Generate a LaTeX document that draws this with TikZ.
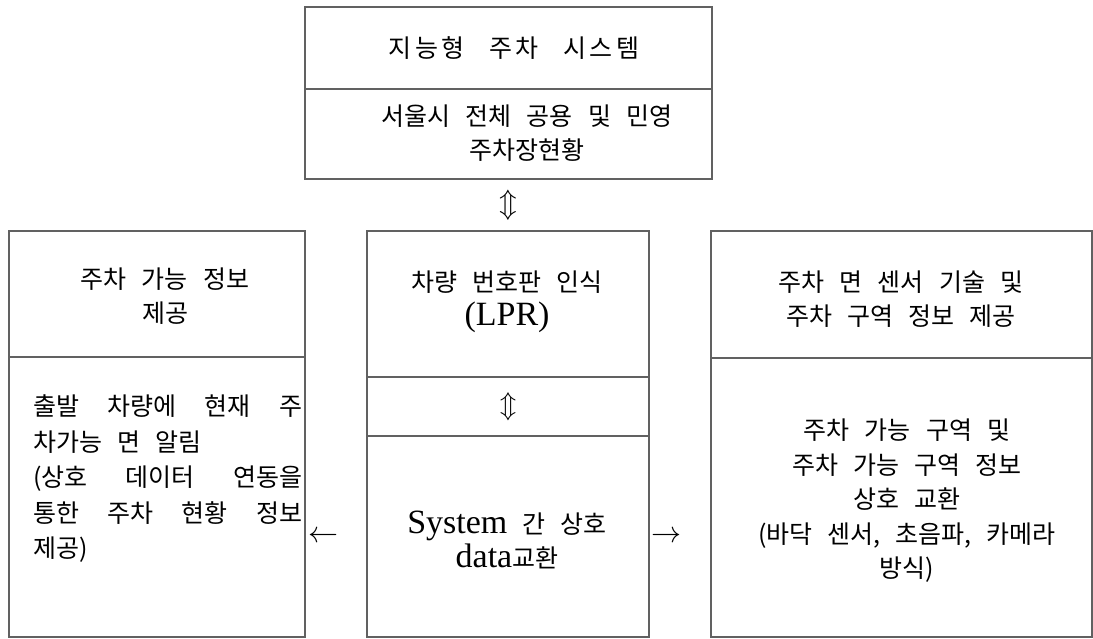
\documentclass[tikz,border=0pt]{standalone}
\usepackage{fontspec}
\usetikzlibrary{calc}
\setmainfont{Liberation Serif}
\newfontfamily\kr[WordSpace=2.7]{Noto Sans CJK KR}

\tikzset{
  cell/.style={draw=black!62, line width=1.1pt, inner sep=0pt, outer sep=0pt,
    anchor=north west},
  ktext/.style={font=\kr\fontsize{25}{34.5}\selectfont, align=center, inner sep=0pt},
  glyph/.style={inner sep=0pt, font=\fontsize{10}{10}\selectfont},
}
\newcommand{\lat}[1]{{\rmfamily\fontsize{34}{34.5}\selectfont #1}}

\begin{document}
\begin{tikzpicture}[x=1pt, y=-1pt]
\fill[white] (0,0) rectangle (1093,638);
\useasboundingbox (0,0) rectangle (1093,638);

% top box
\node[cell, minimum width=407pt, minimum height=82pt] (top1) at (305,7) {};
\node[cell, minimum width=407pt, minimum height=90pt] (top2) at (top1.south west) {};

% left box
\node[cell, minimum width=296pt, minimum height=126pt] (left1) at (9,231) {};
\node[cell, minimum width=296pt, minimum height=280pt] (left2) at (left1.south west) {};

% middle box
\node[cell, minimum width=282pt, minimum height=146pt] (mid1) at (367,231) {};
\node[cell, minimum width=282pt, minimum height=59pt] (mid2) at (mid1.south west) {};
\node[cell, minimum width=282pt, minimum height=201pt] (mid3) at (mid2.south west) {};

% right box
\node[cell, minimum width=381pt, minimum height=127pt] (right1) at (711,231) {};
\node[cell, minimum width=381pt, minimum height=279pt] (right2) at (right1.south west) {};

% texts
\node[ktext, font=\kr\fontsize{25}{34.5}\selectfont\addfontfeature{LetterSpace=14}] (t-title) at (514,48) {지능형 주차 시스템};
\node[ktext] (t-seoul) at (527,133) {서울시 전체 공용 및 민영\\주차장현황};

\node[ktext] (t-avail) at (165,296) {주차 가능 정보\\제공};
\node[ktext, anchor=west] (t-notify) at (33,479) {\parbox{269pt}{\kr\fontsize{25}{35.5}\selectfont
  출발 차량에 현재 주\linebreak
  차가능 면 알림\\
  (상호 데이터 연동을\linebreak
  통한 주차 현황 정보\linebreak
  제공)}};

\node[ktext] (t-lpr) at (507,302) {차량 번호판 인식\\\lat{(LPR)}};
\node[ktext] (t-data) at (507,540) {\lat{System} 간 상호\\\lat{data}교환};

\node[ktext] (t-sensor) at (901,299) {주차 면 센서 기술 및\\주차 구역 정보 제공};
\node[ktext] (t-zone) at (907,501) {주차 가능 구역 및\\주차 가능 구역 정보\\상호 교환\\(바닥 센서, 초음파, 카메라\\방식)};

% exchange symbols
\node[glyph] (ud-top) at ($(top2.south)!0.5!(mid1.north)$) {\scalebox{2.9}{$\Updownarrow$}};
\node[glyph] (ud-mid) at (mid2.center) {\scalebox{2.7}{$\Updownarrow$}};
\node[glyph, anchor=west] (to-left) at ([xshift=3pt]left2.east |- 0,537) {\scalebox{3}{$\leftarrow$}};
\node[glyph, anchor=west] (to-right) at ([xshift=2pt]mid3.east |- 0,537) {\scalebox{3}{$\rightarrow$}};
\end{tikzpicture}
\end{document}
